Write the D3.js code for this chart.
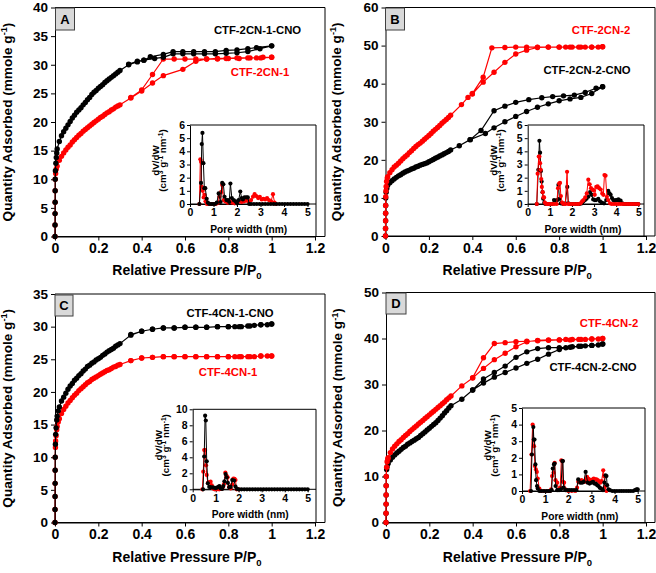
<!DOCTYPE html>
<html><head><meta charset="utf-8">
<script src="https://cdn.jsdelivr.net/npm/d3@7"></script>
<style>
body{margin:0;background:#fff}
text{font-family:"Liberation Sans",Arial,sans-serif;font-weight:bold}
</style>
</head><body>
<svg id="c" width="656" height="573"></svg>
<script>
// ---------------- DATA ----------------
const xTicksMain = [0, 0.2, 0.4, 0.6, 0.8, 1, 1.2];
const yTicksA = [0,5,10,15,20,25,30,35,40];
const yTicksB = [0,10,20,30,40,50,60];
const yTicksC = [0,5,10,15,20,25,30,35];
const yTicksD = [0,10,20,30,40,50];
const insetXTicks = [0,1,2,3,4,5];
const insetYTicksA = [0,1,2,3,4,5,6];
const insetYTicksB = [0,1,2,3,4,5,6];
const insetYTicksC = [0,2,4,6,8,10];
const insetYTicksD = [0,1,2,3,4,5];

const seriesNames = ["CTF-2CN-1-CNO","CTF-2CN-1","CTF-2CN-2","CTF-2CN-2-CNO","CTF-4CN-1-CNO","CTF-4CN-1","CTF-4CN-2","CTF-4CN-2-CNO"];

// Panel A
const A_cno_ads = [[0,0],[0.0002,2],[0.0004,4],[0.0006,6],[0.0008,8],[0.001,10],[0.002,11.5],[0.004,12.8],[0.006,13.8],[0.008,14.6],[0.01,15.3],[0.02,16.6],[0.03,17.6],[0.04,18.3],[0.05,18.9],[0.06,19.5],[0.07,20.1],[0.08,20.7],[0.09,21.2],[0.1,21.7],[0.11,22.1],[0.12,22.5],[0.13,23.0],[0.14,23.4],[0.15,23.9],[0.16,24.3],[0.17,24.8],[0.18,25.2],[0.19,25.5],[0.2,25.9],[0.21,26.2],[0.22,26.5],[0.23,26.9],[0.24,27.2],[0.25,27.5],[0.26,27.8],[0.27,28.1],[0.28,28.4],[0.29,28.7],[0.3,29.0],[0.34,30.0],[0.38,30.5],[0.41,30.8],[0.46,31.1],[0.5,31.3],[0.545,31.9],[0.59,31.9],[0.64,31.9],[0.69,31.9],[0.74,31.9],[0.79,32.0],[0.84,32.1],[0.89,32.3],[0.946,32.8],[1.0,33.3]];
const A_cno_des = [[1.0,33.3],[0.93,33.0],[0.89,32.8],[0.84,32.6],[0.79,32.5],[0.74,32.3],[0.69,32.3],[0.64,32.3],[0.59,32.3],[0.545,32.3],[0.5,31.8],[0.44,31.4],[0.41,30.8],[0.38,30.6],[0.34,30.1]];
const A_ctf_ads = [[0,0],[0.0002,2],[0.0004,4],[0.0006,6],[0.0008,8],[0.001,10],[0.003,11.0],[0.006,11.8],[0.01,12.3],[0.02,13.3],[0.03,14.0],[0.04,14.6],[0.05,15.1],[0.06,15.6],[0.07,16.0],[0.08,16.5],[0.09,16.9],[0.1,17.3],[0.11,17.7],[0.12,18.0],[0.13,18.4],[0.14,18.7],[0.15,19.0],[0.16,19.3],[0.17,19.6],[0.18,19.9],[0.19,20.2],[0.2,20.5],[0.21,20.8],[0.22,21.0],[0.23,21.3],[0.24,21.6],[0.25,21.8],[0.26,22.1],[0.27,22.3],[0.28,22.6],[0.29,22.8],[0.3,23.0],[0.35,24.2],[0.4,25.4],[0.45,26.8],[0.5,28.1],[0.59,29.2],[0.65,30.6],[0.7,31.0],[0.75,31.1],[0.79,31.1],[0.84,31.2],[0.89,31.2],[0.93,31.2],[0.96,31.3],[1.0,31.3]];
const A_ctf_des = [[1.0,31.3],[0.95,31.2],[0.9,31.2],[0.85,31.1],[0.8,31.1],[0.75,31.0],[0.7,31.0],[0.65,31.0],[0.6,31.0],[0.55,31.0],[0.5,31.0],[0.45,28.3],[0.4,25.6],[0.35,24.3]];

// Panel B
const B_ctf_ads = [[0,0],[0.0002,2],[0.0004,4],[0.0006,6],[0.0008,8],[0.001,10.3],[0.002,11.8],[0.003,13.0],[0.005,14.3],[0.008,15.2],[0.01,15.6],[0.02,16.6],[0.03,17.4],[0.04,18.1],[0.05,18.6],[0.06,19.1],[0.07,19.7],[0.08,20.3],[0.09,20.8],[0.1,21.3],[0.11,21.9],[0.12,22.4],[0.13,23.0],[0.14,23.5],[0.15,24.0],[0.16,24.4],[0.17,24.9],[0.18,25.4],[0.19,25.9],[0.2,26.4],[0.21,26.9],[0.22,27.5],[0.23,28.0],[0.24,28.5],[0.25,29.0],[0.26,29.6],[0.27,30.1],[0.28,30.6],[0.29,31.1],[0.3,31.7],[0.35,34.5],[0.38,36.4],[0.4,37.3],[0.45,40.4],[0.5,43.0],[0.55,45.6],[0.6,47.8],[0.65,48.8],[0.7,49.5],[0.75,49.6],[0.8,49.6],[0.83,49.6],[0.86,49.6],[0.89,49.6],[0.92,49.6],[0.95,49.6],[0.98,49.6],[1.0,49.7]];
const B_ctf_des = [[1.0,49.7],[0.95,49.6],[0.9,49.6],[0.85,49.6],[0.8,49.6],[0.75,49.6],[0.7,49.6],[0.65,49.6],[0.6,49.6],[0.55,49.5],[0.49,49.4],[0.45,41.7],[0.4,37.4]];
const B_cno_ads = [[0,0],[0.0002,2],[0.0004,4],[0.0006,6],[0.0008,8],[0.001,10],[0.003,11.5],[0.006,12.5],[0.01,13.3],[0.02,14.0],[0.03,14.5],[0.04,15.0],[0.05,15.4],[0.06,15.8],[0.07,16.1],[0.08,16.5],[0.09,16.8],[0.1,17.1],[0.11,17.3],[0.12,17.6],[0.13,17.8],[0.14,18.1],[0.15,18.3],[0.16,18.6],[0.17,18.8],[0.18,19.0],[0.19,19.2],[0.2,19.5],[0.21,19.8],[0.22,20.1],[0.23,20.4],[0.24,20.7],[0.25,21.0],[0.26,21.3],[0.27,21.6],[0.28,21.9],[0.29,22.2],[0.3,22.6],[0.34,23.7],[0.39,25.3],[0.46,26.9],[0.5,28.4],[0.55,30.0],[0.6,31.4],[0.65,32.7],[0.7,33.8],[0.75,34.7],[0.8,35.5],[0.85,36.0],[0.9,36.4],[0.95,37.4],[1.0,39.2]];
const B_cno_des = [[1.0,39.2],[0.97,38.8],[0.92,37.7],[0.87,37.0],[0.82,36.8],[0.77,36.6],[0.72,36.3],[0.66,35.8],[0.6,35.1],[0.55,34.1],[0.5,32.9],[0.44,27.7],[0.39,25.3]];

// Panel C
const C_cno_ads = [[0,0],[0.0002,2],[0.0004,4],[0.0006,6],[0.0008,8],[0.001,10],[0.002,12],[0.003,13.5],[0.005,14.5],[0.008,15.7],[0.01,16.3],[0.015,17.1],[0.02,17.7],[0.03,18.6],[0.04,19.2],[0.05,19.8],[0.06,20.4],[0.07,20.9],[0.08,21.3],[0.09,21.8],[0.1,22.1],[0.11,22.5],[0.12,22.8],[0.13,23.2],[0.14,23.5],[0.15,23.9],[0.16,24.1],[0.17,24.4],[0.18,24.6],[0.19,24.9],[0.2,25.1],[0.21,25.3],[0.22,25.6],[0.23,25.8],[0.24,26.1],[0.25,26.3],[0.26,26.5],[0.27,26.7],[0.28,27.0],[0.29,27.2],[0.3,27.4],[0.35,28.7],[0.4,29.3],[0.45,29.6],[0.5,29.8],[0.55,29.8],[0.6,29.9],[0.65,29.9],[0.7,29.9],[0.75,30.0],[0.8,30.0],[0.83,30.0],[0.86,30.0],[0.89,30.1],[0.92,30.2],[0.95,30.3],[0.98,30.3],[1.0,30.4]];
const C_cno_des = [[1.0,30.4],[0.95,30.3],[0.9,30.1],[0.85,30.0],[0.8,30.0],[0.75,30.0],[0.7,29.9],[0.65,29.9],[0.6,29.9],[0.55,29.8],[0.5,29.8],[0.45,29.6],[0.4,29.3],[0.35,28.8]];
const C_ctf_ads = [[0,0],[0.0002,2],[0.0004,4],[0.0006,6],[0.0008,8],[0.001,10],[0.002,11.5],[0.003,12.5],[0.005,13.3],[0.008,14.2],[0.01,14.7],[0.015,15.4],[0.02,15.9],[0.03,16.7],[0.04,17.3],[0.05,17.8],[0.06,18.3],[0.07,18.7],[0.08,19.1],[0.09,19.5],[0.1,19.8],[0.11,20.2],[0.12,20.5],[0.13,20.8],[0.14,21.1],[0.15,21.4],[0.16,21.6],[0.17,21.9],[0.18,22.1],[0.19,22.3],[0.2,22.5],[0.21,22.7],[0.22,22.9],[0.23,23.1],[0.24,23.3],[0.25,23.4],[0.26,23.6],[0.27,23.8],[0.28,23.9],[0.29,24.1],[0.3,24.2],[0.35,24.8],[0.4,25.2],[0.45,25.3],[0.5,25.4],[0.55,25.4],[0.6,25.4],[0.65,25.4],[0.7,25.4],[0.75,25.4],[0.8,25.4],[0.83,25.4],[0.86,25.4],[0.89,25.4],[0.92,25.4],[0.95,25.5],[0.98,25.5],[1.0,25.5]];
const C_ctf_des = [[1.0,25.5],[0.95,25.5],[0.9,25.4],[0.85,25.4],[0.8,25.4],[0.75,25.4],[0.7,25.4],[0.65,25.4],[0.6,25.4],[0.55,25.4],[0.5,25.4],[0.45,25.3],[0.4,25.2],[0.35,24.8]];

// Panel D
const D_ctf_ads = [[0,0],[0.0002,2],[0.0004,4],[0.0006,6],[0.0008,8],[0.001,10],[0.003,12.0],[0.005,13.2],[0.008,13.8],[0.01,14.1],[0.02,15.2],[0.03,16.0],[0.04,16.6],[0.05,17.1],[0.06,17.6],[0.07,18.0],[0.08,18.5],[0.09,18.9],[0.1,19.3],[0.11,19.8],[0.12,20.2],[0.13,20.6],[0.14,21.0],[0.15,21.4],[0.16,21.8],[0.17,22.2],[0.18,22.6],[0.19,23.0],[0.2,23.4],[0.21,23.8],[0.22,24.2],[0.23,24.6],[0.24,25.0],[0.25,25.4],[0.26,25.8],[0.27,26.2],[0.28,26.7],[0.29,27.1],[0.3,27.5],[0.35,29.7],[0.4,31.4],[0.45,33.5],[0.5,35.4],[0.55,36.8],[0.6,38.2],[0.65,39.3],[0.7,39.6],[0.75,39.7],[0.8,39.7],[0.83,39.8],[0.86,39.8],[0.89,39.8],[0.92,39.8],[0.95,39.9],[0.98,39.9],[1.0,40.0]];
const D_ctf_des = [[1.0,40.0],[0.95,39.9],[0.9,39.8],[0.85,39.7],[0.8,39.7],[0.75,39.6],[0.7,39.5],[0.65,39.4],[0.6,39.3],[0.55,39.1],[0.5,38.9],[0.45,35.8],[0.4,31.5]];
const D_cno_ads = [[0,0],[0.0002,2],[0.0004,4],[0.0006,6],[0.0008,8],[0.001,10],[0.003,11.5],[0.005,12.1],[0.01,12.8],[0.02,13.6],[0.03,14.2],[0.04,14.7],[0.05,15.1],[0.06,15.5],[0.07,15.9],[0.08,16.3],[0.09,16.6],[0.1,17.0],[0.11,17.3],[0.12,17.6],[0.13,17.9],[0.14,18.2],[0.15,18.5],[0.16,18.9],[0.17,19.3],[0.18,19.7],[0.19,20.1],[0.2,20.5],[0.21,20.9],[0.22,21.3],[0.23,21.7],[0.24,22.2],[0.25,22.7],[0.26,23.2],[0.27,23.8],[0.28,24.3],[0.29,24.9],[0.3,25.4],[0.35,26.8],[0.4,28.8],[0.45,30.3],[0.5,31.6],[0.55,32.6],[0.6,33.6],[0.65,34.6],[0.7,35.5],[0.75,36.6],[0.8,37.6],[0.83,38.0],[0.86,38.2],[0.89,38.3],[0.92,38.4],[0.95,38.5],[0.98,38.6],[1.0,38.8]];
const D_cno_des = [[1.0,38.8],[0.95,38.5],[0.9,38.3],[0.85,38.1],[0.8,38.0],[0.75,38.0],[0.7,37.8],[0.65,37.1],[0.6,35.9],[0.55,34.0],[0.5,32.6],[0.45,31.2],[0.4,28.8]];

// Insets (pore size distribution)
const insA_cno = [[0.4,0],[0.47,1.6],[0.5,4.55],[0.53,5.4],[0.57,3.1],[0.61,1.2],[0.65,1.2],[0.71,0.4],[0.76,0.1],[0.82,0],[0.9,0],[0.98,0],[1.06,0],[1.14,0.1],[1.22,0.8],[1.3,0.15],[1.37,1.6],[1.42,1.5],[1.47,0.55],[1.55,0.3],[1.62,0.3],[1.67,0.15],[1.72,1.55],[1.78,0.45],[1.86,0.3],[1.94,0.2],[2.0,0.05],[2.07,0.3],[2.14,0.95],[2.2,0.45],[2.25,0.35],[2.32,0.5],[2.4,0.5],[2.46,0.5],[2.52,0],[2.6,0],[2.72,0],[2.84,0],[2.96,0],[3.08,0],[3.2,0],[3.32,0],[3.44,0],[3.56,0],[3.68,0],[3.8,0],[3.92,0],[4.04,0],[4.16,0],[4.28,0],[4.4,0],[4.52,0],[4.64,0],[4.76,0],[4.88,0],[5.0,0]];
const insA_ctf = [[0.4,0],[0.44,3.4],[0.47,3.2],[0.5,1.3],[0.54,1.0],[0.58,0.5],[0.62,0.7],[0.66,0.2],[0.72,0],[0.8,0],[0.9,0],[1.0,0],[1.1,0],[1.2,0.1],[1.25,0.55],[1.32,0.9],[1.37,1.45],[1.43,0.3],[1.5,0.2],[1.6,0.1],[1.7,0.2],[1.8,0.1],[1.9,0.05],[2.0,0.1],[2.1,0.2],[2.2,0.15],[2.3,0.2],[2.4,0.25],[2.5,0.2],[2.6,0.3],[2.68,0.55],[2.75,0.75],[2.82,0.6],[2.9,0.45],[2.97,0.55],[3.05,0.35],[3.12,0.4],[3.2,0.35],[3.28,0.45],[3.36,0.3],[3.45,0.2],[3.53,0.75],[3.6,0.1],[3.65,0]];
const insB_cno = [[0.41,0],[0.48,2.6],[0.53,4.8],[0.56,3.9],[0.6,2.5],[0.63,1.7],[0.67,0.9],[0.7,0.4],[0.75,0.1],[0.8,0],[0.9,0],[1.0,0],[1.1,0],[1.19,0.3],[1.27,0.25],[1.34,0.3],[1.39,1.45],[1.44,0.4],[1.5,0.05],[1.6,0],[1.7,0.05],[1.79,1.3],[1.84,0.05],[1.95,0],[2.05,0],[2.15,0],[2.25,0],[2.35,0],[2.45,0.05],[2.52,0.2],[2.59,0.3],[2.66,0.4],[2.74,0.55],[2.82,0.9],[2.89,0.7],[2.96,0.35],[3.03,0.3],[3.09,0.3],[3.19,0.4],[3.27,0.2],[3.35,0.1],[3.45,0.05],[3.55,0.3],[3.64,1.0],[3.7,0.8],[3.75,0.7],[3.81,0.45],[3.87,0.3],[3.93,0.25],[3.99,0.3],[4.05,0.3],[4.1,0.35],[4.15,0.25],[4.2,0.25],[4.28,0.05],[4.36,0],[4.44,0],[4.52,0],[4.6,0],[4.68,0],[4.76,0],[4.84,0],[4.92,0],[5.0,0]];
const insB_ctf = [[0.41,0],[0.45,2.3],[0.5,3.6],[0.53,3.6],[0.56,3.1],[0.59,2.6],[0.61,1.9],[0.64,1.3],[0.68,0.9],[0.71,0.5],[0.74,0.5],[0.78,0.1],[0.84,0],[0.92,0],[1.0,0],[1.1,0],[1.2,0],[1.31,0],[1.37,1.2],[1.42,1.55],[1.46,1.6],[1.5,0.6],[1.56,0.1],[1.62,0],[1.7,0],[1.78,2.45],[1.83,0],[1.9,0],[2.0,0],[2.1,0],[2.2,0],[2.3,0],[2.39,0.05],[2.46,0.2],[2.52,0.3],[2.6,0.5],[2.67,0.8],[2.74,1.85],[2.8,1.5],[2.86,1.2],[2.93,1.1],[2.97,1.05],[3.03,0.7],[3.1,1.3],[3.16,1.35],[3.23,1.2],[3.3,1.1],[3.37,0.8],[3.42,0.7],[3.47,2.2],[3.52,2.15],[3.58,0.55],[3.64,0.3],[3.72,0.05],[3.8,0],[3.9,0],[4.0,0],[4.1,0],[4.2,0],[4.3,0],[4.4,0],[4.5,0],[4.6,0],[4.7,0],[4.8,0],[4.9,0],[5.0,0]];
const insC_cno = [[0.45,0],[0.5,4.1],[0.54,9.2],[0.57,8.6],[0.61,3.5],[0.66,0.75],[0.72,0.3],[0.78,0.25],[0.85,0.25],[0.92,0.2],[0.99,0.15],[1.05,0.2],[1.12,0.3],[1.16,0.4],[1.22,0.1],[1.28,0.05],[1.33,0.4],[1.38,1.0],[1.43,1.9],[1.48,1.5],[1.53,0.8],[1.59,0.25],[1.65,0.3],[1.72,1.15],[1.8,1.1],[1.86,0.35],[1.92,0.05],[2.0,0],[2.12,0],[2.24,0],[2.36,0],[2.48,0],[2.6,0],[2.72,0],[2.84,0],[2.96,0],[3.08,0],[3.2,0],[3.32,0],[3.44,0],[3.56,0],[3.68,0],[3.8,0],[3.92,0],[4.04,0],[4.16,0],[4.28,0],[4.4,0],[4.52,0],[4.64,0],[4.76,0],[4.88,0],[5.0,0]];
const insC_ctf = [[0.42,0],[0.46,2.2],[0.5,4.9],[0.54,4.9],[0.58,3.0],[0.61,1.8],[0.66,0.8],[0.72,0.9],[0.78,0.95],[0.83,0.5],[0.88,0.1],[0.95,0],[1.05,0],[1.15,0],[1.25,0.05],[1.32,0.3],[1.36,0.65],[1.42,2.1],[1.47,1.7],[1.52,1.5],[1.58,0.3],[1.65,0.1],[1.72,0.6],[1.77,1.35],[1.82,1.3],[1.86,1.15],[1.91,0],[2.0,0]];
const insD_cno = [[0.39,0],[0.43,2.2],[0.49,3.85],[0.51,3.1],[0.54,3.1],[0.58,1.6],[0.61,0.65],[0.65,0.3],[0.68,0.15],[0.75,0],[0.85,0],[0.95,0],[1.05,0],[1.15,0],[1.22,0],[1.28,0.05],[1.33,1.35],[1.38,1.6],[1.41,1.65],[1.45,0.3],[1.52,0.05],[1.6,0.05],[1.68,0.1],[1.74,1.8],[1.77,1.8],[1.8,0.2],[1.88,0.05],[1.96,0.05],[2.05,0.05],[2.15,0.05],[2.25,0.05],[2.35,0.05],[2.43,0.7],[2.52,0.5],[2.6,0.5],[2.67,0.55],[2.75,1.15],[2.84,0.5],[2.92,0.45],[3.0,0.5],[3.07,0.55],[3.13,0.45],[3.19,0.45],[3.25,0.35],[3.3,0.3],[3.36,0.2],[3.42,0.15],[3.5,0.05],[3.56,0.5],[3.61,0.95],[3.65,0.9],[3.68,0.35],[3.74,0.1],[3.8,0.05],[3.9,0],[4.0,0],[4.1,0],[4.2,0],[4.3,0],[4.4,0],[4.5,0],[4.6,0],[4.7,0],[4.8,0],[4.88,0.05],[4.95,0.1],[5.0,0.1]];
const insD_ctf = [[0.35,0],[0.41,2.2],[0.46,4.0],[0.52,2.7],[0.56,1.5],[0.6,1.3],[0.64,1.15],[0.68,0.75],[0.75,0.15],[0.82,0],[0.95,0],[1.1,0],[1.2,0],[1.26,0.1],[1.3,0.9],[1.36,1.1],[1.41,1.7],[1.45,0.65],[1.52,0.5],[1.58,0.1],[1.65,0.2],[1.7,1.85],[1.74,1.8],[1.77,0.55],[1.82,0.5],[1.88,0.1],[2.0,0],[2.15,0],[2.3,0],[2.38,0.2],[2.43,0.55],[2.5,0.6],[2.57,0.65],[2.64,0.6],[2.71,0.55],[2.77,0.7],[2.81,0.85],[2.86,0.75],[2.9,0.7],[2.95,0.65],[3.0,0.65],[3.06,0.7],[3.1,0.75],[3.16,0.7],[3.22,0.7],[3.27,0.65],[3.32,0.6],[3.38,0.5],[3.44,0.6],[3.51,1.25],[3.55,0.9],[3.58,0.25],[3.65,0]];

// ---------------- LAYOUT / STYLE ----------------
const RED = "#ff0000", BLK = "#000000";
const FONT = "'Liberation Sans', Arial, sans-serif";

const panels = [
  { letter:"A", x0:55, x12:315, xr:325, top:7.5, bot:236.5, yMax:40, yTicks:yTicksA, ytX:11.5, xtY:275,
    box:[55.5,8,19,22],
    series:[{d:A_ctf_ads.concat(A_ctf_des), c:RED},{d:A_cno_ads.concat(A_cno_des), c:BLK}],
    labels:[{t:seriesNames[0], x:257.5, y:30, c:BLK},{t:seriesNames[1], x:260, y:72, c:RED}],
    inset:{x0:190, x5:307.5, xr:316, top:125, bot:204, yMax:6, yTicks:insetYTicksA,
      series:[{d:insA_ctf,c:RED},{d:insA_cno,c:BLK}]}},
  { letter:"B", x0:385.5, x12:646, xr:655, top:7.5, bot:236, yMax:60, yTicks:yTicksB, ytX:340.5, xtY:275,
    box:[385.5,8,19,22],
    series:[{d:B_cno_ads.concat(B_cno_des), c:BLK},{d:B_ctf_ads.concat(B_ctf_des), c:RED}],
    labels:[{t:seriesNames[2], x:601, y:30, c:RED},{t:seriesNames[3], x:587, y:70, c:BLK}],
    inset:{x0:527.7, x5:638.3, xr:644, top:125, bot:204, yMax:6, yTicks:insetYTicksB,
      series:[{d:insB_cno,c:BLK},{d:insB_ctf,c:RED}]}},
  { letter:"C", x0:55, x12:315, xr:325, top:294, bot:522.5, yMax:35, yTicks:yTicksC, ytX:11.5, xtY:562,
    box:[55,295,18,21],
    series:[{d:C_ctf_ads.concat(C_ctf_des), c:RED},{d:C_cno_ads.concat(C_cno_des), c:BLK}],
    labels:[{t:seriesNames[4], x:230, y:313, c:BLK},{t:seriesNames[5], x:228, y:372, c:RED}],
    inset:{x0:192.7, x5:307.7, xr:316, top:409.3, bot:489.3, yMax:10, yTicks:insetYTicksC,
      series:[{d:insC_ctf,c:RED},{d:insC_cno,c:BLK}]}},
  { letter:"D", x0:386, x12:646, xr:655, top:292.5, bot:522.5, yMax:50, yTicks:yTicksD, ytX:342, xtY:562,
    box:[386,293,20,21],
    series:[{d:D_cno_ads.concat(D_cno_des), c:BLK},{d:D_ctf_ads.concat(D_ctf_des), c:RED}],
    labels:[{t:seriesNames[6], x:609, y:323, c:RED},{t:seriesNames[7], x:593, y:367, c:BLK}],
    inset:{x0:522, x5:637.7, xr:645, top:408, bot:491, yMax:5, yTicks:insetYTicksD,
      series:[{d:insD_ctf,c:RED},{d:insD_cno,c:BLK}]}}
];

const svg = d3.select("#c");

function rich(t, parts, fs){
  let shift = 0;
  parts.forEach(([s,k]) => {
    const target = k==="sup" ? -0.32*fs : (k==="sub" ? 0.28*fs : 0);
    const ts = t.append("tspan").text(s).attr("dy", target - shift);
    if (k !== "n") ts.attr("font-size", fs*0.68);
    shift = target;
  });
}

function styleAxis(g, fs){
  g.attr("font-family", FONT).attr("font-size", fs);
  g.selectAll("line").attr("stroke", "#000");
  g.selectAll("path").attr("stroke", "#000");
  g.selectAll("text").attr("fill", "#000");
}

panels.forEach(p => {
  const g = svg.append("g");
  const x = d3.scaleLinear().domain([0, 1.2]).range([p.x0, p.x12]);
  const y = d3.scaleLinear().domain([0, p.yMax]).range([p.bot, p.top]);

  g.append("path").attr("d", `M${p.x0},${p.top}H${p.xr}V${p.bot}H${p.x0}`)
    .attr("fill","none").attr("stroke","#000").attr("stroke-width",1);

  const ya = g.append("g").attr("transform",`translate(${p.x0},0)`)
    .call(d3.axisLeft(y).tickValues(p.yTicks).tickSize(4).tickPadding(3).tickSizeOuter(0).tickFormat(d3.format("d")));
  styleAxis(ya, 13.5);
  const xa = g.append("g").attr("transform",`translate(0,${p.bot})`)
    .call(d3.axisBottom(x).tickValues(xTicksMain).tickSize(4).tickPadding(3).tickSizeOuter(0).tickFormat(d => String(d)));
  styleAxis(xa, 14);

  const yt = g.append("text").attr("transform",`translate(${p.ytX},${(p.top+p.bot)/2}) rotate(-90)`)
    .attr("text-anchor","middle").attr("dy","0.35em").attr("font-size",13.6);
  rich(yt, [["Quantity Adsorbed (mmole g","n"],["-1","sup"],[")","n"]], 13.6);
  const xt = g.append("text").attr("x",(p.x0+p.xr)/2 - 3).attr("y",p.xtY)
    .attr("text-anchor","middle").attr("dy","0.35em").attr("font-size",14);
  rich(xt, [["Relative Pressure P/P","n"],["0","sub"]], 14);

  g.append("rect").attr("x",p.box[0]).attr("y",p.box[1]).attr("width",p.box[2]).attr("height",p.box[3])
    .attr("fill","#d9d9d9").attr("stroke","#404040").attr("stroke-width",1);
  g.append("text").attr("x",p.box[0]+p.box[2]/2).attr("y",p.box[1]+p.box[3]/2).attr("dy","0.36em")
    .attr("text-anchor","middle").attr("font-size",13).text(p.letter);

  const line = d3.line().x(d => x(d[0])).y(d => y(d[1]));
  p.series.forEach(s => {
    g.append("path").datum(s.d).attr("d", line).attr("fill","none").attr("stroke", s.c).attr("stroke-width",1.2);
    g.append("g").selectAll("circle").data(s.d).join("circle")
      .attr("cx", d => x(d[0])).attr("cy", d => y(d[1])).attr("r", 2.7).attr("fill", s.c);
  });

  p.labels.forEach(l => {
    g.append("text").attr("x",l.x).attr("y",l.y).attr("dy","0.35em").attr("text-anchor","middle")
      .attr("font-size",11.3).attr("fill",l.c).text(l.t);
  });

  const ins = p.inset;
  const ig = g.append("g");
  const ix = d3.scaleLinear().domain([0,5]).range([ins.x0, ins.x5]);
  const iy = d3.scaleLinear().domain([0, ins.yMax]).range([ins.bot, ins.top]);
  ig.append("rect").attr("x",ins.x0).attr("y",ins.top).attr("width",ins.xr-ins.x0).attr("height",ins.bot-ins.top).attr("fill","#fff");
  ig.append("path").attr("d",`M${ins.x0},${ins.top}H${ins.xr}V${p.bot}`).attr("fill","none").attr("stroke","#000").attr("stroke-width",1);
  ig.append("path").attr("d",`M${ins.x0},${ins.bot}H${ins.xr}`).attr("stroke","#000").attr("stroke-width",1);
  const iya = ig.append("g").attr("transform",`translate(${ins.x0},0)`)
    .call(d3.axisLeft(iy).tickValues(ins.yTicks).tickSize(3).tickPadding(2).tickSizeOuter(0).tickFormat(d3.format("d")));
  styleAxis(iya, 10.5);
  const ixa = ig.append("g").attr("transform",`translate(0,${ins.bot})`)
    .call(d3.axisBottom(ix).tickValues(insetXTicks).tickSize(3).tickPadding(2).tickSizeOuter(0).tickFormat(d3.format("d")));
  styleAxis(ixa, 10.5);
  ig.append("text").attr("x",(ins.x0+ins.x5)/2).attr("y",ins.bot+25).attr("dy","0.35em")
    .attr("text-anchor","middle").attr("font-size",10.2).text("Pore width (nm)");
  const cy = (ins.top+ins.bot)/2 - 4;
  ig.append("text").attr("transform",`translate(${ins.x0-34},${cy}) rotate(-90)`).attr("text-anchor","middle")
    .attr("dy","0.35em").attr("font-size",9.8).text("dV/dW");
  const t2 = ig.append("text").attr("transform",`translate(${ins.x0-24},${cy}) rotate(-90)`).attr("text-anchor","middle")
    .attr("dy","0.35em").attr("font-size",9.8);
  rich(t2, [["(cm","n"],["3","sup"],[" g","n"],["-1","sup"],[" nm","n"],["-1","sup"],[")","n"]], 9.8);

  const iline = d3.line().x(d => ix(d[0])).y(d => iy(d[1]));
  ins.series.forEach(s => {
    ig.append("path").datum(s.d).attr("d", iline).attr("fill","none").attr("stroke", s.c).attr("stroke-width",1);
    ig.append("g").selectAll("circle").data(s.d).join("circle")
      .attr("cx", d => ix(d[0])).attr("cy", d => iy(d[1])).attr("r", 2.1).attr("fill", s.c);
  });
});
</script>
</body></html>
